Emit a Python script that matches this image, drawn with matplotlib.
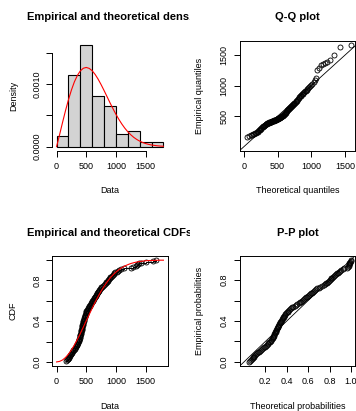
import numpy as np
import matplotlib
matplotlib.use('Agg')
import matplotlib.pyplot as plt
from matplotlib.transforms import Bbox, TransformedBbox

plt.rcParams['font.family'] = ['Liberation Sans', 'DejaVu Sans']

# observed sample (sorted)
data = [158, 175, 185, 194,
        205, 212, 220, 228, 236, 245, 255, 265, 275, 285, 295, 305, 315, 322,
        330, 337, 345, 352, 358, 364, 370, 376, 381, 386, 390, 394, 397, 399,
        402, 405, 408, 411, 414, 417, 420, 423, 426, 429, 432, 435, 438, 441,
        444, 447, 452, 456, 460, 464, 468, 472, 476, 480, 484, 488, 492, 496,
        503, 510, 517, 524, 531, 538, 545, 555, 565, 575, 585, 595,
        605, 613, 621, 629, 637, 645, 653, 661, 669, 677, 685, 693, 701, 710,
        720, 730, 742, 755, 770, 785,
        805, 815, 826, 837, 848, 859, 870, 882, 894, 906, 918, 930, 945, 960,
        975, 990,
        1010, 1035, 1060, 1090, 1130,
        1250, 1290, 1340, 1355, 1370, 1390,
        1420, 1510, 1630, 1670]

hist_breaks = [0, 200, 400, 600, 800, 1000, 1200, 1400, 1600, 1800]

# fitted curve read at 0, 50, ..., 1800
curve_x = list(range(0, 1801, 50))
curve_dens = [0.000000, 0.000188, 0.000384, 0.000573, 0.000748, 0.000903, 0.001034,
              0.001136, 0.001209, 0.001251, 0.001264, 0.001249, 0.001211, 0.001152,
              0.001077, 0.000990, 0.000896, 0.000798, 0.000700, 0.000606, 0.000516,
              0.000434, 0.000360, 0.000294, 0.000237, 0.000189, 0.000148, 0.000115,
              0.000088, 0.000066, 0.000049, 0.000036, 0.000026, 0.000019, 0.000013,
              0.000009, 0.000006]
curve_cdf = [0.000, 0.005, 0.019, 0.043, 0.076, 0.117, 0.166, 0.220, 0.279, 0.341,
             0.404, 0.466, 0.528, 0.587, 0.643, 0.695, 0.742, 0.784, 0.822, 0.854,
             0.882, 0.906, 0.926, 0.942, 0.955, 0.966, 0.974, 0.981, 0.986, 0.990,
             0.993, 0.995, 0.996, 0.997, 0.998, 0.999, 0.999]

# Q-Q: theoretical quantiles, one per observation
qq_theo = [47, 81, 104, 122, 139, 153, 167, 179, 191, 202,
           212, 222, 232, 242, 251, 260, 268, 277, 285, 293,
           301, 309, 316, 324, 331, 339, 346, 353, 360, 367,
           374, 381, 388, 395, 401, 408, 415, 421, 428, 434,
           441, 447, 454, 460, 467, 473, 480, 486, 493, 499,
           506, 512, 518, 525, 531, 538, 544, 551, 557, 564,
           570, 577, 584, 590, 597, 604, 610, 617, 624, 631,
           638, 645, 652, 659, 666, 673, 681, 688, 696, 703,
           711, 718, 726, 734, 742, 750, 759, 767, 776, 784,
           793, 802, 812, 821, 831, 840, 850, 861, 871, 882,
           894, 905, 917, 929, 942, 956, 970, 984, 1000, 1016,
           1033, 1051, 1071, 1092, 1114, 1140, 1168, 1200, 1237, 1282,
           1340, 1422, 1586]

# P-P: theoretical probabilities, one per observation
pp_theo = [0.048, 0.058, 0.065, 0.072, 0.080, 0.085, 0.092, 0.098, 0.105, 0.113,
           0.122, 0.131, 0.141, 0.151, 0.161, 0.171, 0.182, 0.189, 0.198, 0.206,
           0.215, 0.222, 0.229, 0.236, 0.243, 0.250, 0.256, 0.262, 0.267, 0.272,
           0.275, 0.278, 0.281, 0.285, 0.289, 0.292, 0.296, 0.300, 0.303, 0.307,
           0.311, 0.314, 0.318, 0.322, 0.326, 0.329, 0.333, 0.337, 0.343, 0.348,
           0.353, 0.358, 0.363, 0.368, 0.373, 0.378, 0.383, 0.388, 0.393, 0.398,
           0.407, 0.416, 0.425, 0.434, 0.443, 0.451, 0.460, 0.473, 0.485, 0.497,
           0.510, 0.522, 0.534, 0.544, 0.553, 0.563, 0.572, 0.581, 0.591, 0.600,
           0.609, 0.618, 0.627, 0.635, 0.644, 0.654, 0.664, 0.675, 0.687, 0.700,
           0.714, 0.728, 0.746, 0.755, 0.764, 0.774, 0.783, 0.791, 0.800, 0.809,
           0.817, 0.826, 0.834, 0.842, 0.851, 0.860, 0.869, 0.877, 0.887, 0.899,
           0.910, 0.922, 0.936, 0.966, 0.973, 0.980, 0.981, 0.983, 0.985, 0.988,
           0.993, 0.997, 0.998]

x = np.array(data, float)
n = len(x)
emp_p = (np.arange(1, n + 1) - 0.5) / n
ecdf_y = np.arange(1, n + 1) / n

W, H = 356, 411
fig = plt.figure(figsize=(W / 100, H / 100), dpi=100)

def box(l, t, r, b):
    # pixel box -> figure fraction
    return [l / W, 1 - b / H, (r - l) / W, (b - t) / H]

ax1 = fig.add_axes(box(52.3, 40.7, 167.7, 150.7))
ax2 = fig.add_axes(box(239.7, 40.7, 355, 150.7))
ax3 = fig.add_axes(box(52.3, 256, 167.7, 366))
ax4 = fig.add_axes(box(239.7, 256, 355, 366))

# 1. histogram + density
heights, _, _ = ax1.hist(x, bins=hist_breaks, density=True, color='#D3D3D3',
                         edgecolor='black', linewidth=0.8)
ax1.plot(curve_x, curve_dens, color='red', lw=0.8)
ax1.set_xlim(-72, 1872)
M = heights.max()
ax1.set_ylim(-0.04 * M, 1.04 * M)
for s in ['top', 'right']:
    ax1.spines[s].set_visible(False)
ax1.spines['left'].set_bounds(0, 0.0015)
ax1.spines['bottom'].set_bounds(0, 1500)
ax1.set_xticks([0, 500, 1000, 1500])
ax1.set_yticks([0, 0.0005, 0.001, 0.0015])
ax1.set_yticklabels(['0.0000', '', '0.0010', ''])

# 2. Q-Q
ax2.plot(qq_theo, x, 'o', mfc='none', mec='black', ms=3.6, mew=0.6)
ax2.axline((0, 0), slope=1, color='black', lw=0.6)
ax2.margins(0.04)
ax2.set_xticks([0, 500, 1000, 1500])
ax2.set_yticks([500, 1000, 1500])

# 3. CDFs
ax3.step(x, ecdf_y, where='post', color='black', lw=0.7)
ax3.plot(x, ecdf_y, 'o', mfc='none', mec='black', ms=3.6, mew=0.6)
ax3.plot(curve_x, curve_cdf, color='red', lw=0.8)
ax3.set_xlim(-72, 1872)
ax3.set_ylim(-0.04, 1.04)
ax3.set_xticks([0, 500, 1000, 1500])
ax3.set_yticks([0, 0.2, 0.4, 0.6, 0.8, 1.0])
ax3.set_yticklabels(['0.0', '', '0.4', '', '0.8', ''])

# 4. P-P
ax4.plot(pp_theo, emp_p, 'o', mfc='none', mec='black', ms=3.6, mew=0.6)
ax4.axline((0, 0), slope=1, color='black', lw=0.6)
ax4.margins(0.04)
ax4.set_xticks([0.2, 0.4, 0.6, 0.8, 1.0])
ax4.set_xticklabels(['0.2', '0.4', '0.6', '0.8', '1.0'])
ax4.set_yticks([0, 0.2, 0.4, 0.6, 0.8, 1.0])
ax4.set_yticklabels(['0.0', '', '0.4', '', '0.8', ''])

for ax in [ax1, ax2, ax3, ax4]:
    ax.tick_params(length=4, width=0.7, labelsize=6.5, pad=4, direction='out')
    ax.tick_params(axis='y', labelrotation=90)
    for lab in ax.get_yticklabels():
        lab.set_va('center')
    for s in ax.spines.values():
        s.set_linewidth(0.7)

def ftext(px, py, s, **kw):
    return fig.text(px / W, 1 - py / H, s, ha='center', va='center', **kw)

# left titles are cut off at the panel edge
left_clip = TransformedBbox(Bbox([[0, 0], [190 / W, 1]]), fig.transFigure)
t = ftext(110, 17.3, 'Empirical and theoretical dens.', fontsize=8, fontweight='bold')
t.set_clip_box(left_clip)
t.set_clip_on(True)
t = ftext(110, 233.3, 'Empirical and theoretical CDFs', fontsize=8, fontweight='bold')
t.set_clip_box(left_clip)
t.set_clip_on(True)
ftext(297.4, 17.3, 'Q-Q plot', fontsize=8, fontweight='bold')
ftext(297.4, 233.3, 'P-P plot', fontsize=8, fontweight='bold')

ftext(110, 190.7, 'Data', fontsize=6.5)
ftext(110, 406, 'Data', fontsize=6.5)
ftext(297.4, 190.7, 'Theoretical quantiles', fontsize=6.5)
ftext(297.4, 406, 'Theoretical probabilities', fontsize=6.5)
ftext(13.3, 95.7, 'Density', fontsize=6.5, rotation=90)
ftext(13.3, 311, 'CDF', fontsize=6.5, rotation=90)
ftext(200, 95.7, 'Empirical quantiles', fontsize=6.5, rotation=90)
ftext(200, 311, 'Empirical probabilities', fontsize=6.5, rotation=90)

fig.savefig('out.png', dpi=100, facecolor='white')
